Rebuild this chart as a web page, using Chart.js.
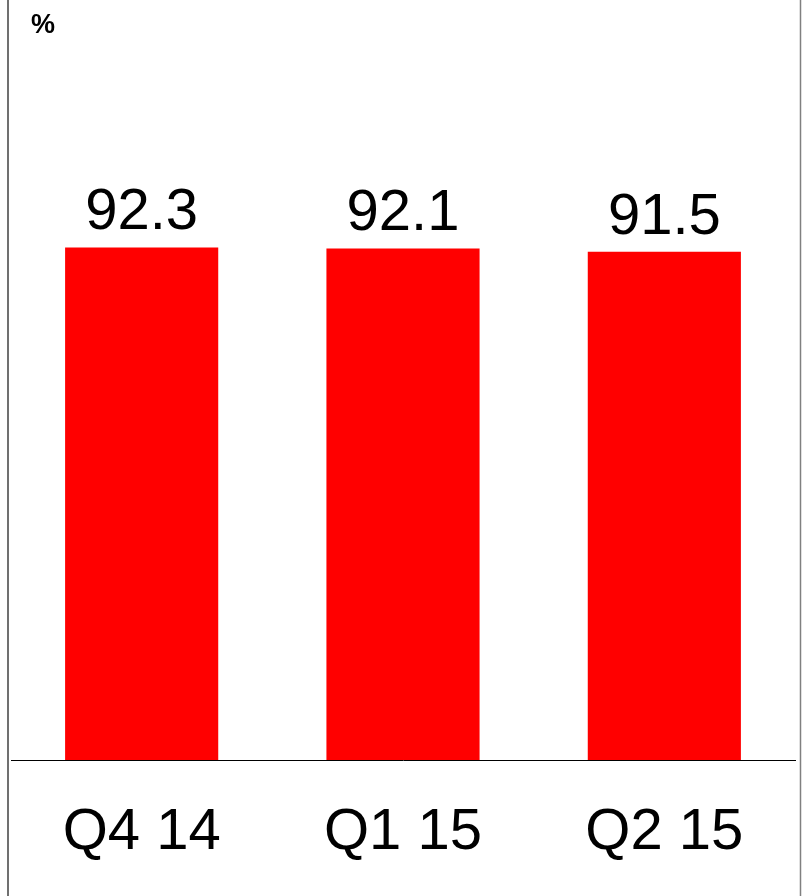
<!DOCTYPE html>
<html>
<head>
<meta charset="utf-8">
<script src="https://cdn.jsdelivr.net/npm/chart.js@4/dist/chart.umd.min.js"></script>
<style>
  body { margin: 0; background: #fff; }
  canvas { display: block; }
</style>
</head>
<body>
<canvas id="chart" width="805" height="896"></canvas>
<script>
// data
const quarters = ['Q4 14', 'Q1 15', 'Q2 15'];
const values = [92.3, 92.1, 91.5];
const unitLabel = '%';

const FONT = 'Arial, "Liberation Sans", sans-serif';

// frame lines + unit label
const framePlugin = {
  id: 'frame',
  beforeDraw(chart) {
    const ctx = chart.ctx;
    ctx.save();
    ctx.lineWidth = 1.5;
    ctx.strokeStyle = '#404040';
    ctx.beginPath();
    ctx.moveTo(8, 0);
    ctx.lineTo(8, chart.height);
    ctx.stroke();
    ctx.strokeStyle = '#808080';
    ctx.beginPath();
    ctx.moveTo(800.5, 0);
    ctx.lineTo(800.5, chart.height);
    ctx.stroke();
    ctx.fillStyle = '#000';
    ctx.font = 'bold 27px ' + FONT;
    ctx.textBaseline = 'alphabetic';
    ctx.textAlign = 'left';
    ctx.fillText(unitLabel, 31, 33);
    ctx.restore();
  }
};

// value labels above bars
const valueLabels = {
  id: 'valueLabels',
  afterDatasetsDraw(chart) {
    const ctx = chart.ctx;
    const meta = chart.getDatasetMeta(0);
    ctx.save();
    ctx.fillStyle = '#000';
    ctx.font = '58px ' + FONT;
    ctx.textAlign = 'center';
    ctx.textBaseline = 'alphabetic';
    meta.data.forEach((bar, i) => {
      ctx.fillText(values[i].toFixed(1), bar.x, bar.y - 18);
    });
    ctx.restore();
  }
};

new Chart(document.getElementById('chart'), {
  type: 'bar',
  data: {
    labels: quarters,
    datasets: [{
      data: values,
      backgroundColor: '#ff0000',
      barPercentage: 0.586,
      categoryPercentage: 1
    }]
  },
  options: {
    responsive: false,
    animation: false,
    layout: { padding: { top: 38, left: 11, right: 10, bottom: 0 } },
    plugins: { legend: { display: false }, tooltip: { enabled: false } },
    scales: {
      x: {
        grid: { display: false, drawTicks: false },
        border: { display: true, color: '#000', width: 1 },
        ticks: { color: '#000', font: { family: FONT, size: 58 }, padding: 38 },
        afterFit(scale) { scale.height = 136; }
      },
      y: {
        display: false,
        min: 0,
        max: 130
      }
    }
  },
  plugins: [framePlugin, valueLabels]
});
</script>
</body>
</html>
